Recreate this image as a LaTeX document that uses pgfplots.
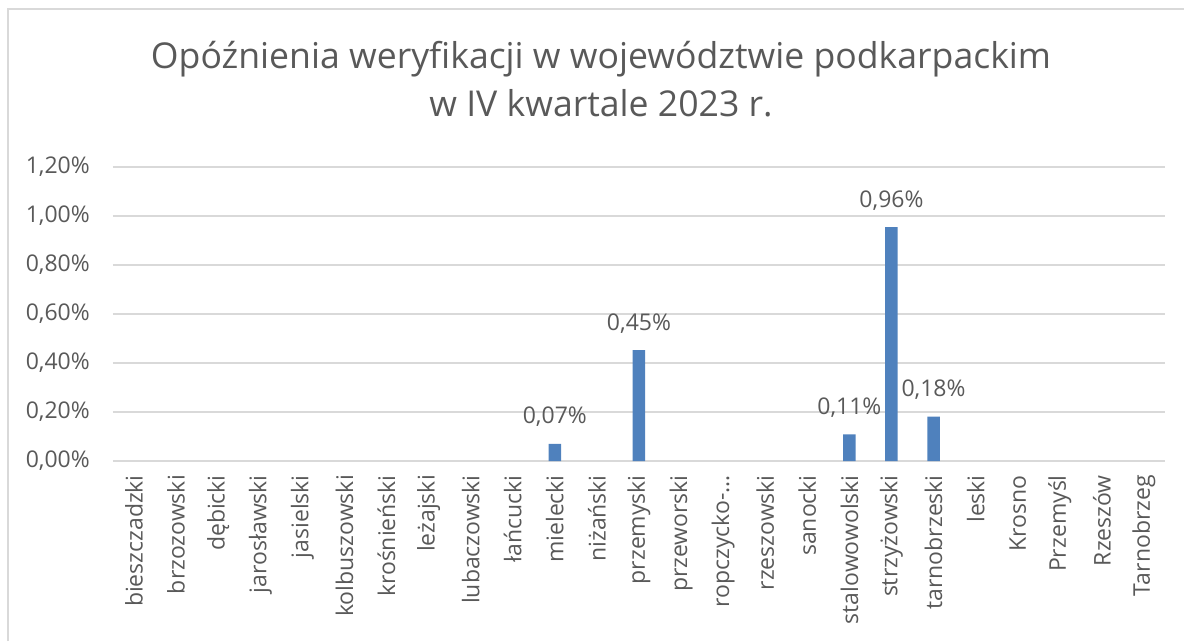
\documentclass[border=0pt]{standalone}
\usepackage{pgfplots}
\pgfplotsset{compat=1.18}
\usepackage{fontspec}
\setmainfont{Open Sans}
\definecolor{txt}{HTML}{595959}
\definecolor{gridc}{HTML}{D9D9D9}
\definecolor{barc}{HTML}{4F81BD}
\begin{document}
\begin{tikzpicture}[x=1pt,y=1pt]
\path[use as bounding box] (0,0) rectangle (1184,641);
\draw[gridc, line width=2pt] (8,0) -- (8,632) -- (1184,632);
\node[anchor=base, text=txt, font=\fontsize{35.6}{42}\selectfont] at (601,572) {Opóźnienia weryfikacji w województwie podkarpackim};
\node[anchor=base, text=txt, font=\fontsize{35.6}{42}\selectfont] at (601,524.3) {w IV kwartale 2023 r.};
\begin{axis}[
  at={(113pt,180pt)}, anchor=south west,
  scale only axis, width=1052pt, height=294pt,
  xmin=-0.5, xmax=24.5, ymin=0, ymax=1.2,
  axis line style={draw=none},
  major tick length=0pt,
  ymajorgrids, grid style={gridc, line width=1.2pt},
  ytick={0,0.2,0.4,0.6,0.8,1.0,1.2},
  yticklabels={{0,00\%},{0,20\%},{0,40\%},{0,60\%},{0,80\%},{1,00\%},{1,20\%}},
  yticklabel style={text=txt, font=\fontsize{23}{27}\selectfont, inner sep=0pt, anchor=east, xshift=-23pt},
  xtick={0,...,24},
  xticklabels={bieszczadzki,brzozowski,dębicki,jarosławski,jasielski,kolbuszowski,krośnieński,leżajski,lubaczowski,łańcucki,mielecki,niżański,przemyski,przeworski,ropczycko-…,rzeszowski,sanocki,stalowowolski,strzyżowski,tarnobrzeski,leski,Krosno,Przemyśl,Rzeszów,Tarnobrzeg},
  xticklabel style={text=txt, font=\fontsize{23}{27}\selectfont, yshift=-14pt, rotate=90, anchor=east, inner sep=0pt},
  ybar, bar width=12.5pt,
  nodes near coords,
  point meta=explicit symbolic,
  every node near coord/.append style={text=txt, font=\fontsize{23}{27}\selectfont, anchor=base, yshift=20pt, inner sep=0pt},
]
\addplot[fill=barc, draw=none] coordinates {
  (10,0.07) [0,07\%]
  (12,0.453) [0,45\%]
  (17,0.109) [0,11\%]
  (18,0.955) [0,96\%]
  (19,0.181) [0,18\%]
};
\end{axis}
\end{tikzpicture}
\end{document}
